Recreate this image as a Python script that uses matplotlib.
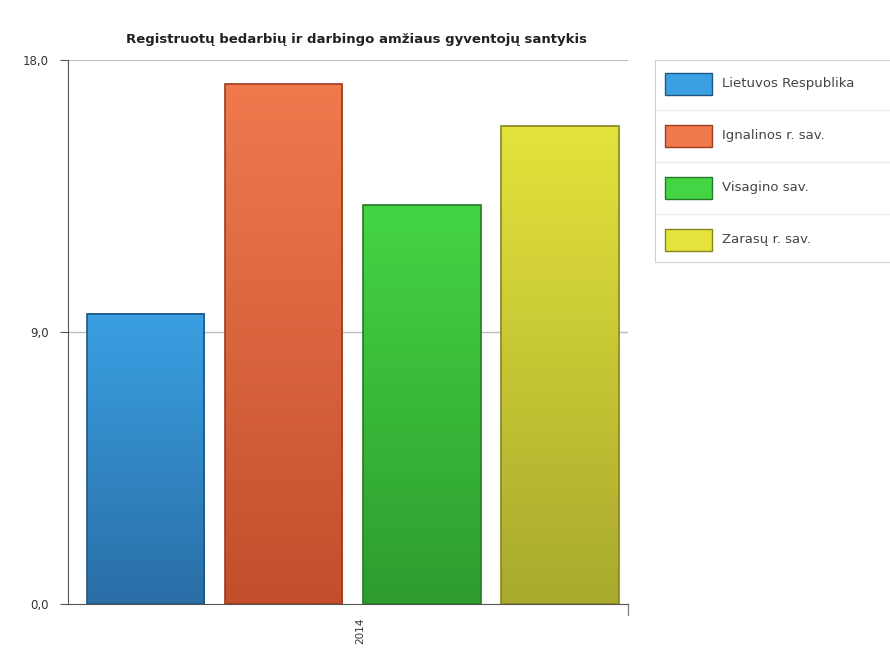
import numpy as np
import matplotlib.pyplot as plt
from matplotlib.colors import LinearSegmentedColormap
from matplotlib.patches import Rectangle

# registered unemployed vs working-age population, 2014
regions = ['Lietuvos Respublika', 'Ignalinos r. sav.', 'Visagino sav.', 'Zarasų r. sav.']
values = [9.6, 17.2, 13.2, 15.8]
year = '2014'
yticks = [0.0, 9.0, 18.0]
ytick_labels = ['0,0', '9,0', '18,0']

top_colors = ['#3aa0e2', '#f07a4e', '#44d544', '#e3e33c']
bot_colors = ['#2a6ea6', '#c24e2c', '#2e9c2e', '#a9a92e']
edge_colors = ['#1f5684', '#9c3c20', '#257a25', '#86861f']

fig = plt.figure(figsize=(8.9, 6.53), dpi=100)
ax = fig.add_axes([68/890, 49/653, 560/890, 544/653])

width = 0.85
for i, v in enumerate(values):
    cmap = LinearSegmentedColormap.from_list('g', [bot_colors[i], top_colors[i]])
    grad = np.linspace(0, 1, 256).reshape(-1, 1)
    ax.imshow(grad, cmap=cmap, origin='lower', aspect='auto',
              extent=[i - width/2, i + width/2, 0, v], zorder=2)
    ax.add_patch(Rectangle((i - width/2, 0), width, v, fill=False,
                           edgecolor=edge_colors[i], linewidth=1.2, zorder=3))

ax.set_xlim(-0.56, 3.49)
ax.set_ylim(0, 18)
ax.axhline(9.0, color='#bdbdbd', linewidth=1, zorder=1)
ax.axhline(18.0, color='#bdbdbd', linewidth=1.5, zorder=1)

for s in ['top', 'right']:
    ax.spines[s].set_visible(False)
ax.spines['left'].set_color('#555555')
ax.spines['bottom'].set_color('#555555')
ax.plot([3.49, 3.49], [0, -0.35], color='#888888', lw=1, clip_on=False)

ax.set_yticks(yticks)
ax.set_yticklabels(ytick_labels, fontsize=8.5, color='#333333')
ax.tick_params(axis='y', length=6, color='#555555', pad=8)
ax.set_xticks([])
ax.text(1.55, -0.45, year, rotation=90, fontsize=7.5, color='#333333',
        ha='center', va='top')

fig.text(357/890, 1 - 40/653, 'Registruotų bedarbių ir darbingo amžiaus gyventojų santykis',
         ha='center', va='center', fontsize=9.5, fontweight='bold', color='#222222')

# legend box
lax = fig.add_axes([655/890, 1 - 262/653, 240/890, 202/653])
lax.set_xlim(0, 240)
lax.set_ylim(202, 0)
lax.set_xticks([])
lax.set_yticks([])
for s in lax.spines.values():
    s.set_color('#d0d0d0')
for k, name in enumerate(regions):
    cy = 24 + k * 52
    lax.add_patch(Rectangle((10, cy - 11), 47, 22, facecolor=top_colors[k],
                            edgecolor=edge_colors[k], linewidth=1))
    lax.text(67, cy, name, fontsize=9.5, color='#444444', va='center')
    if k < 3:
        lax.axhline(cy + 26, color='#ececec', linewidth=1)

fig.savefig('out.png', dpi=100)
